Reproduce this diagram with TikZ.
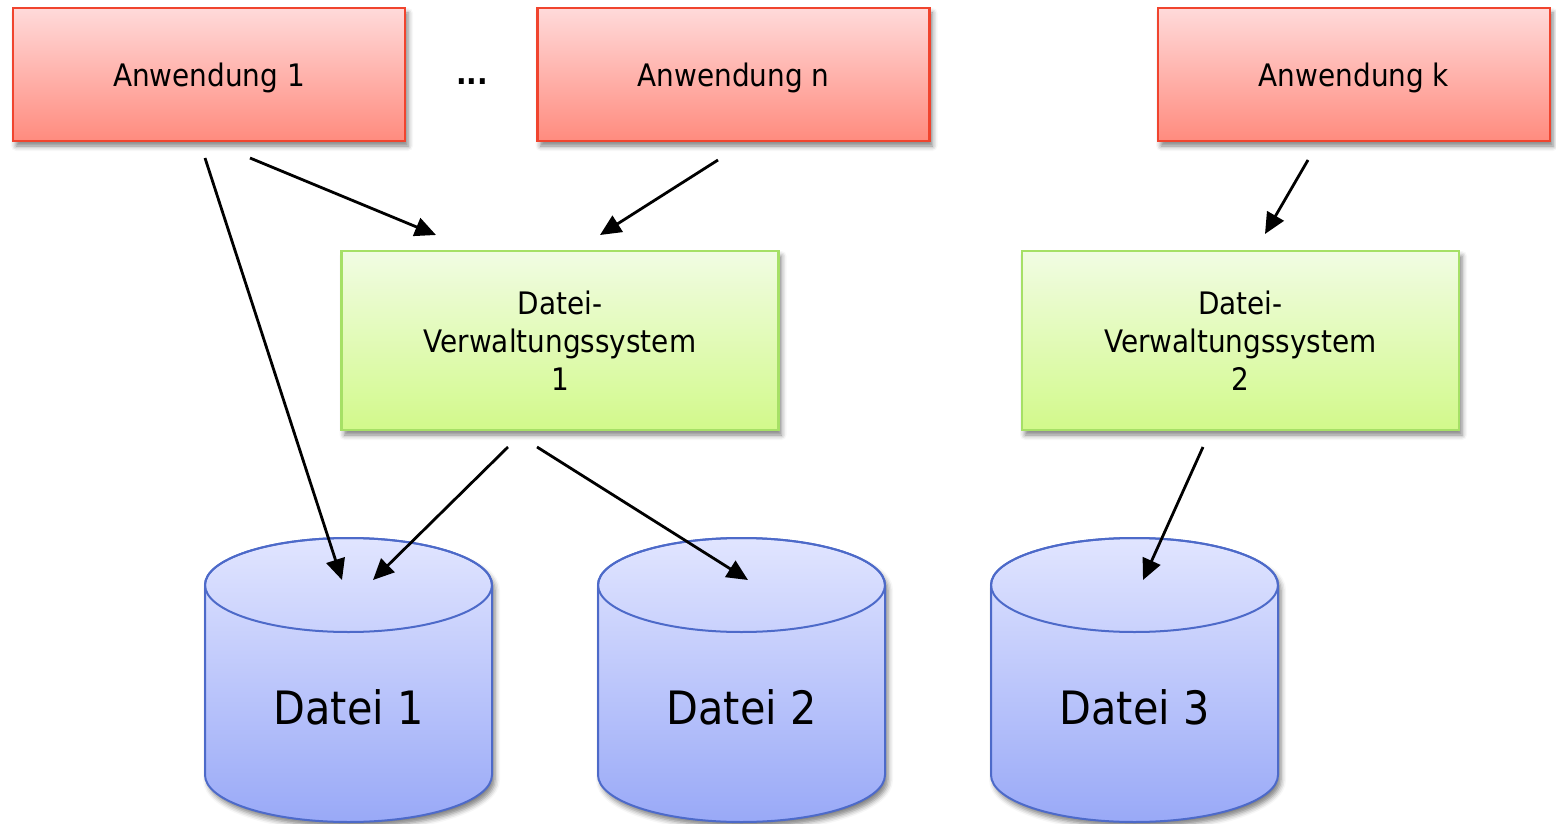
\documentclass[tikz,border=0pt]{standalone}
\usepackage{fontspec}
\setmainfont{DejaVu Sans Condensed}
\usetikzlibrary{arrows.meta,shadows.blur}

\definecolor{apptop}{HTML}{FFDADA}
\definecolor{appbot}{HTML}{FF8B7E}
\definecolor{appedge}{HTML}{F0442E}
\definecolor{fmstop}{HTML}{F1FCE3}
\definecolor{fmsbot}{HTML}{D2F98B}
\definecolor{fmsedge}{HTML}{A6E066}
\definecolor{drumtop}{HTML}{E1E5FF}
\definecolor{drumbot}{HTML}{99A9F7}
\definecolor{drumedge}{HTML}{4D6AC9}

\tikzset{
  softshadow/.style={blur shadow={shadow xshift=3pt, shadow yshift=-5pt,
      shadow blur radius=5pt, shadow opacity=50}},
  appbox/.style={draw=appedge, line width=2.2pt, top color=apptop, bottom color=appbot,
      minimum width=392pt, minimum height=133pt, inner sep=0pt, softshadow,
      text depth=0pt, font=\fontsize{31}{38}\selectfont},
  fmsbox/.style={draw=fmsedge, line width=2.2pt, top color=fmstop, bottom color=fmsbot,
      minimum width=437pt, minimum height=179pt, inner sep=0pt, softshadow,
      align=center, font=\fontsize{31}{38}\selectfont},
  drumbody/.style={draw=drumedge, line width=2pt, top color=drumtop, bottom color=drumbot,
      softshadow},
  drumrim/.style={draw=drumedge, line width=2pt},
  drumtext/.style={font=\fontsize{46}{50}\selectfont, inner sep=0pt},
  conn/.style={draw=black, line width=2.8pt, line join=miter,
      -{Triangle[length=21pt,width=19pt,fill=black]}},
}

\begin{document}
\begin{tikzpicture}[x=1pt,y=-1pt]
\useasboundingbox (0,0) rectangle (1556,824);

% applications
\node[appbox] (app1) at (209,74.5) {Anwendung 1};
\node[appbox] (appn) at (733.5,74.5) {Anwendung n};
\node[appbox] (appk) at (1354,74.5) {Anwendung k};
\node[font=\fontsize{31}{38}\selectfont\bfseries, anchor=base, inner sep=0pt] (dots) at (472,85) {...};

% file management systems
\node[fmsbox] (fms1) at (560,340.5) {Datei-\\Verwaltungssystem\\1};
\node[fmsbox] (fms2) at (1240.5,340.5) {Datei-\\Verwaltungssystem\\2};

% files drawn as cylinders
\foreach \cx/\nm/\lab in {348.5/file1/Datei 1, 741.5/file2/Datei 2, 1134.5/file3/Datei 3} {
  \path[drumbody] (\cx-143.5,585)
      arc[start angle=180, end angle=0, x radius=143.5pt, y radius=47pt]
      -- (\cx+143.5,775)
      arc[start angle=0, end angle=-180, x radius=143.5pt, y radius=47pt]
      -- cycle;
  \draw[drumrim] (\cx,585) ellipse [x radius=143.5pt, y radius=47pt];
  \node[drumtext] (\nm) at (\cx,707) {\lab};
}

% connector end points
\coordinate (c1s) at (205,158);  \coordinate (c1e) at (342,580);
\coordinate (c2s) at (250,158);  \coordinate (c2e) at (436,235);
\coordinate (c3s) at (718,160);  \coordinate (c3e) at (600,235);
\coordinate (c4s) at (1308,160); \coordinate (c4e) at (1265,234);
\coordinate (c5s) at (508,447);  \coordinate (c5e) at (373,580);
\coordinate (c6s) at (537,447);  \coordinate (c6e) at (748,580);
\coordinate (c7s) at (1203,447); \coordinate (c7e) at (1143,580);

\draw[conn] (c1s) -- (c1e);
\draw[conn] (c2s) -- (c2e);
\draw[conn] (c3s) -- (c3e);
\draw[conn] (c4s) -- (c4e);
\draw[conn] (c5s) -- (c5e);
\draw[conn] (c6s) -- (c6e);
\draw[conn] (c7s) -- (c7e);
\end{tikzpicture}
\end{document}
